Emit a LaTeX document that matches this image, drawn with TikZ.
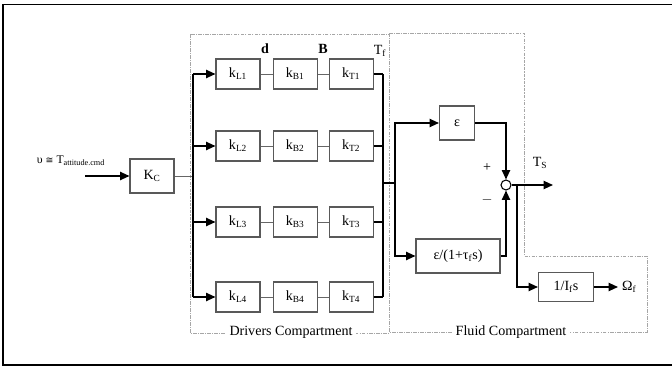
\documentclass[tikz,border=0pt]{standalone}
\usepackage{fontspec}
\setmainfont{Liberation Serif}
\newfontfamily\symfont{DejaVu Sans}
\usetikzlibrary{arrows.meta, positioning, calc}

\begin{document}
\begin{tikzpicture}[x=0.03cm, y=-0.03cm, >={Triangle[length=8pt,width=7pt]},
  font=\fontsize{12}{14}\selectfont,
  blk/.style={draw=black!65, line width=0.9pt, minimum width=1.32cm, minimum height=0.9cm, inner sep=1pt},
  wire/.style={line width=1.3pt},
  thinwire/.style={draw=black!60, line width=0.8pt},
  comp/.style={draw=black!35, line width=0.6pt, dash pattern=on 3pt off 1pt on 1pt off 1pt}]
  \useasboundingbox (0,0) rectangle (672,367);
  % compartments
  \draw[comp] (190,34) rectangle (389,333);
  \draw[comp] (389,33) -- (524,33) -- (524,256) -- (647,256) -- (647,332) -- (389,332);
  \node[fill=white] (drv) at (291,332) {Drivers Compartment};
  \node[fill=white] (fld) at (511,332) {Fluid Compartment};
  % outer frame
  \draw[line width=0.9pt] (672,4.5) -- (3,4.5) -- (3,365) -- (672,365);

  % input and gain
  \node[blk, minimum height=1.02cm] (KC) at (152,176) {K\textsubscript{C}};
  \coordinate (in) at (85,176);
  \draw[wire, ->] (in) -- (KC.west);
  \node[font=\fontsize{10}{12}\selectfont] (cmd) at (71,161) {υ {\symfont\fontsize{8}{10}\selectfont ≅} T\textsubscript{attitude.cmd}};
  \coordinate (kco) at (193,176);
  \draw[thinwire] (KC.east) -- (kco);

  % driver chains
  \foreach \i/\y in {1/74,2/146,3/222,4/297} {
    \node[blk] (kL\i) at (238,\y) {k\textsubscript{L\i}};
    \node[blk, right=0.36cm of kL\i] (kB\i) {k\textsubscript{B\i}};
    \node[blk, right=0.33cm of kB\i] (kT\i) {k\textsubscript{T\i}};
    \coordinate (lb\i) at (193,\y);
    \coordinate (rb\i) at (383,\y);
    \draw[thinwire] (kL\i) -- (kB\i);
    \draw[thinwire] (kB\i) -- (kT\i);
    \draw[wire] (kT\i.east) -- (rb\i);
    \draw[wire, ->] (lb\i) -- (kL\i.west);
  }
  \draw[wire] (lb1) -- (lb4);
  \draw[wire] (rb1) -- (rb4);
  \node[font=\fontsize{12}{14}\bfseries] (dlbl) at (265,49) {d};
  \node[font=\fontsize{12}{14}\bfseries] (blbl) at (323,49) {B};
  \node (tflbl) at (380,51) {T\textsubscript{f}};

  % fluid
  \coordinate (rj) at (383,183);
  \coordinate (sp) at (395,183);
  \node[blk, minimum width=1.05cm, minimum height=1.02cm] (eps) at (457,123) {ε};
  \node[blk, minimum width=2.52cm, minimum height=1.02cm] (lag) at (458,256) {ε/(1+τ\textsubscript{f}s)};
  \node[circle, draw, line width=0.9pt, minimum size=0.3cm, inner sep=0pt] (sum) at (506,185) {};
  \draw[wire] (rj) -- (sp);
  \draw[wire, ->] (sp) |- (eps.west);
  \draw[wire, ->] (sp) |- (lag.west);
  \draw[wire, ->] (eps.east) -| (sum.north);
  \draw[wire, ->] (lag.east) -| (sum.south);
  \node (plus) at (487,168) {+};
  \node (minus) at (487,200) {$-$};
  \coordinate (ts) at (553,185);
  \draw[wire, ->] (sum.east) -- (ts);
  \node (tslbl) at (540,163) {T\textsubscript{S}};
  \coordinate (br) at (517,185);
  \node[blk, minimum width=1.65cm, minimum height=0.87cm] (inv) at (566,287) {1/I\textsubscript{f}s};
  \draw[wire, ->] (br) |- (inv.west);
  \coordinate (om) at (618,287);
  \draw[wire, ->] (inv.east) -- (om);
  \node[right=0pt of om] (omlbl) {Ω\textsubscript{f}};
\end{tikzpicture}
\end{document}
